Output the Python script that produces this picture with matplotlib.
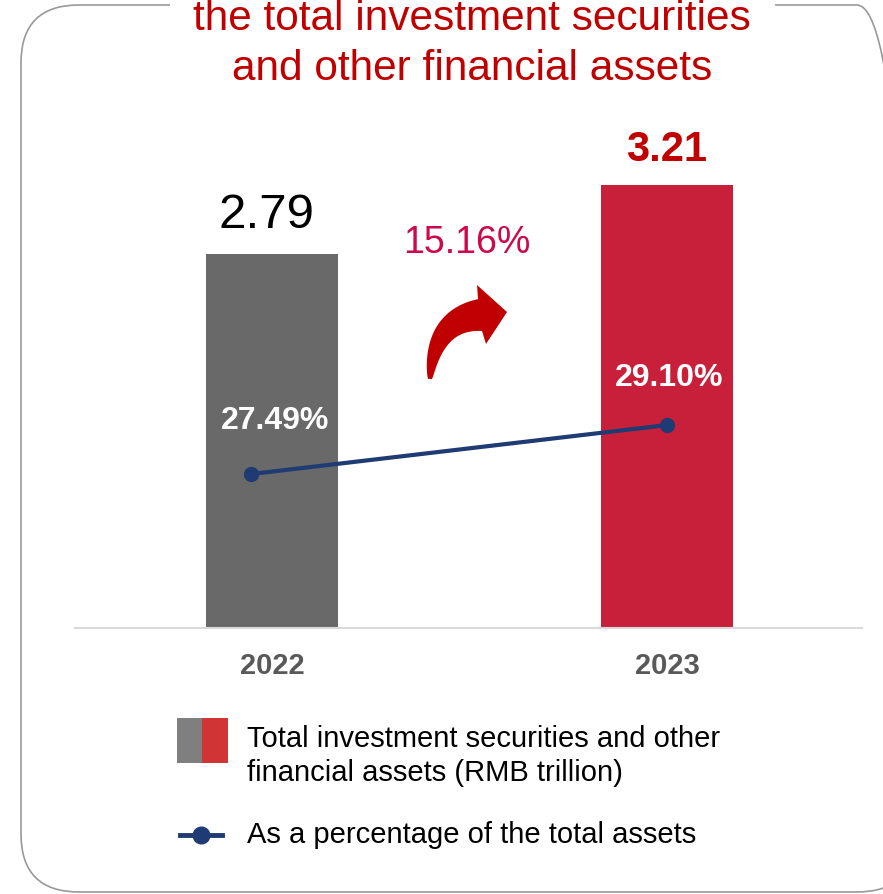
import numpy as np
import matplotlib
matplotlib.use('Agg')
import matplotlib.pyplot as plt
from matplotlib.patches import FancyBboxPatch, Rectangle, Polygon
from matplotlib.lines import Line2D
from matplotlib.transforms import IdentityTransform

plt.rcParams['font.family'] = ['Liberation Sans', 'DejaVu Sans']

W, H = 883, 894

years = ['2022', '2023']
assets = [2.79, 3.21]          # RMB trillion
share = [27.49, 29.10]         # % of total assets
growth_label = '15.16%'

bar_colors = ['#696969', '#C8203A']
line_color = '#1F3B73'
title_red = '#C00000'


def fx(px):
    return px / W


def fy(py):
    return 1 - py / H


fig = plt.figure(figsize=(W / 100, H / 100), dpi=100)

# main axes: baseline at y=628 px, top at y=185 px
ax = fig.add_axes([fx(75), fy(628), (862 - 75) / W, (628 - 185) / H])
x = np.arange(len(years))
ax.bar(x, assets, width=0.334, color=bar_colors, zorder=2)
ax.set_xlim(-0.4987, 1.4937)
ax.set_ylim(0.514, 3.21)
for s in ['top', 'left', 'right']:
    ax.spines[s].set_visible(False)
ax.spines['bottom'].set_color('#D9D9D9')
ax.spines['bottom'].set_linewidth(1.5)
ax.set_yticks([])
ax.set_xticks(x)
ax.set_xticklabels(years, fontsize=21, fontweight='bold', color='#595959')
ax.tick_params(axis='x', length=0, pad=17)

# bar value labels
ax.annotate(f'{assets[0]:.2f}', (x[0], assets[0]), xytext=(-4, 28),
            textcoords='offset points', ha='center', va='center',
            fontsize=35.5, color='black')
ax.annotate(f'{assets[1]:.2f}', (x[1], assets[1]), xytext=(0, 25),
            textcoords='offset points', ha='center', va='center',
            fontsize=30, fontweight='bold', color=title_red, annotation_clip=False)

# percentage line on a second scale
ax2 = ax.twinx()
ax2.set_ylim(22.43, 36.99)
ax2.axis('off')
line_x = [-0.053, 1.0]
ax2.plot(line_x, share, color=line_color, lw=3, marker='o', ms=10, zorder=3)
ax2.annotate(f'{share[0]:.2f}%', (line_x[0], share[0]), xytext=(17, 38),
             textcoords='offset points', ha='center', va='center',
             fontsize=23, fontweight='bold', color='white')
ax2.annotate(f'{share[1]:.2f}%', (line_x[1], share[1]), xytext=(1.5, 34),
             textcoords='offset points', ha='center', va='center',
             fontsize=23, fontweight='bold', color='white')

# growth label and curved arrow
fig.text(fx(467), fy(243), growth_label, ha='center', va='center',
         fontsize=27, color='#CC0A4A')

t = np.linspace(0, 1, 40)
p0, p1, p2 = np.array([430, 379]), np.array([434, 320]), np.array([480, 315])
pts = ((1 - t)[:, None] ** 2 * p0 + 2 * ((1 - t) * t)[:, None] * p1
       + (t ** 2)[:, None] * p2)
d = np.gradient(pts, axis=0)
nrm = np.stack([-d[:, 1], d[:, 0]], axis=1)
nrm /= np.linalg.norm(nrm, axis=1)[:, None]
half = (2 + 14 * t ** 0.75)[:, None]
side_a = pts + nrm * half
side_b = pts - nrm * half
head = np.array([[486, 344], [507, 312], [477, 285]])
outline = np.vstack([side_a, head, side_b[::-1]])
outline = np.column_stack([fx(outline[:, 0]), fy(outline[:, 1])])
fig.add_artist(Polygon(outline, closed=True, transform=fig.transFigure,
                       facecolor=title_red, edgecolor='none'))

# rounded frame around the panel, opened at the top for the title
frame = FancyBboxPatch((21, 2), 915 - 21, 889 - 2,
                       boxstyle='round,pad=0,rounding_size=58',
                       transform=IdentityTransform(), facecolor='none',
                       edgecolor='#999999', lw=1.2, clip_on=False)
fig.add_artist(frame)
fig.add_artist(Rectangle((170, 874), 605, 20, transform=IdentityTransform(),
                         facecolor='white', edgecolor='none'))

fig.text(fx(472), fy(30), 'the total investment securities', ha='center',
         va='baseline', fontsize=30.5, color=title_red)
fig.text(fx(472), fy(80), 'and other financial assets', ha='center',
         va='baseline', fontsize=30.5, color=title_red)

# legend
fig.add_artist(Rectangle((fx(177), fy(763)), (202 - 177) / W, 45 / H,
                         transform=fig.transFigure, facecolor='#7F7F7F', edgecolor='none'))
fig.add_artist(Rectangle((fx(202), fy(763)), (228 - 202) / W, 45 / H,
                         transform=fig.transFigure, facecolor='#D03434', edgecolor='none'))
fig.text(fx(247), fy(756), 'Total investment securities and other\nfinancial assets (RMB trillion)',
         ha='left', va='center', fontsize=21, linespacing=1.27, color='black')
fig.add_artist(Line2D([fx(180), fx(222)], [fy(835), fy(835)], transform=fig.transFigure,
                      color=line_color, lw=3.5))
fig.add_artist(Line2D([fx(201)], [fy(835)], transform=fig.transFigure,
                      color=line_color, marker='o', ms=12, lw=0))
fig.text(fx(247), fy(835), 'As a percentage of the total assets',
         ha='left', va='center', fontsize=21, color='black')

fig.savefig('out.png', dpi=100, facecolor='white')
